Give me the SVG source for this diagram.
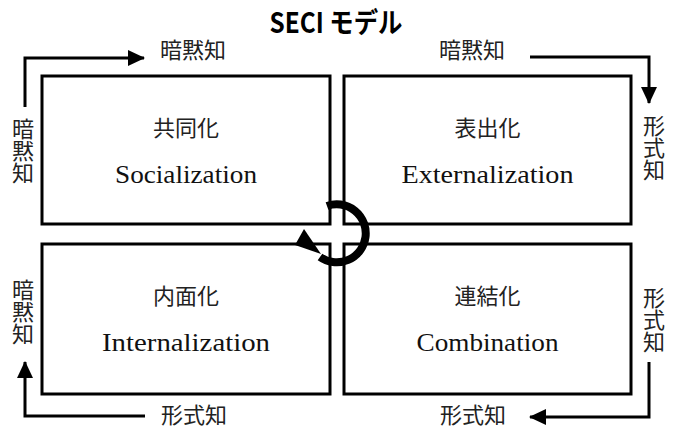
<svg xmlns="http://www.w3.org/2000/svg" width="674" height="428" viewBox="0 0 674 428">
<defs>
<marker id="ah" markerUnits="userSpaceOnUse" markerWidth="17" markerHeight="16" refX="16" refY="8" orient="auto">
<path d="M0,0 L17,8 L0,16 z" fill="#000"/>
</marker>
<style>
.box{fill:#fff;stroke:#000;stroke-width:3}
.conn{fill:none;stroke:#000;stroke-width:3;marker-end:url(#ah)}
.jp{font-family:"Noto Sans CJK JP","Noto Sans",sans-serif;font-size:22px;fill:#222;text-anchor:middle}
.vt{font-family:"Noto Sans CJK JP","Noto Sans",sans-serif;font-size:22px;fill:#222;text-anchor:middle;writing-mode:vertical-rl;text-orientation:upright}
.en{font-family:"Liberation Serif","DejaVu Serif",serif;font-size:25px;fill:#111;text-anchor:middle}
.title{font-family:"Noto Sans CJK JP","Liberation Sans",sans-serif;font-size:28px;font-weight:bold;text-anchor:middle;fill:#000}
</style>
</defs>
<rect width="674" height="428" fill="#fff"/>
<text class="title" x="336" y="33" textLength="133" lengthAdjust="spacingAndGlyphs">SECI モデル</text>

<g id="socialization">
<rect class="box" x="42" y="76" width="288" height="148"/>
<text class="jp" x="186" y="136">共同化</text>
<text class="en" x="186" y="183" textLength="142" lengthAdjust="spacingAndGlyphs">Socialization</text>
</g>
<g id="externalization">
<rect class="box" x="344" y="76" width="287" height="148"/>
<text class="jp" x="487.5" y="136">表出化</text>
<text class="en" x="487.5" y="183" textLength="172" lengthAdjust="spacingAndGlyphs">Externalization</text>
</g>
<g id="internalization">
<rect class="box" x="42" y="244" width="288" height="150"/>
<text class="jp" x="186" y="304">内面化</text>
<text class="en" x="186" y="351" textLength="168" lengthAdjust="spacingAndGlyphs">Internalization</text>
</g>
<g id="combination">
<rect class="box" x="344" y="244" width="287" height="150"/>
<text class="jp" x="487.5" y="304">連結化</text>
<text class="en" x="487.5" y="351" textLength="142" lengthAdjust="spacingAndGlyphs">Combination</text>
</g>

<g id="connectors">
<path class="conn" d="M25,107 V58 H144"/>
<path class="conn" d="M530,57 H649 V103"/>
<path class="conn" d="M649,362 V417 H530"/>
<path class="conn" d="M145,416 H25 V362"/>
<path d="M327,206 A29,29 0 1 1 320,257" fill="none" stroke="#000" stroke-width="8"/>
<polygon points="295,245 304,229 321,254" fill="#000"/>
</g>

<g id="labels">
<text class="jp" x="193" y="58">暗黙知</text>
<text class="jp" x="472" y="58">暗黙知</text>
<text class="jp" x="194" y="423">形式知</text>
<text class="jp" x="473" y="423">形式知</text>
<text class="vt" x="23" y="151">暗黙知</text>
<text class="vt" x="654" y="148">形式知</text>
<text class="vt" x="23" y="312">暗黙知</text>
<text class="vt" x="654" y="320">形式知</text>
</g>
</svg>
